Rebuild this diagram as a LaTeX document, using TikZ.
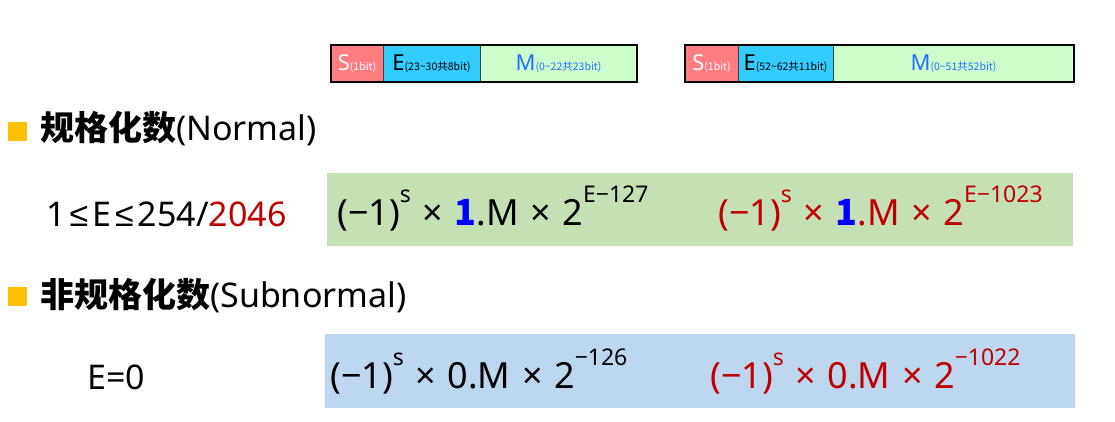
\documentclass[tikz,border=0pt]{standalone}
\usepackage{fontspec}
\setmainfont{Noto Sans}
\newfontfamily\cjk{Noto Sans CJK SC}
\newfontfamily\arialf{Liberation Sans}
\definecolor{scol}{HTML}{FF7C80}
\definecolor{ecol}{HTML}{33CCFF}
\definecolor{mcol}{HTML}{CCFFCC}
\definecolor{mtxt}{RGB}{35,110,250}
\definecolor{bul}{HTML}{FFC000}
\definecolor{gbox}{HTML}{C5E0B4}
\definecolor{bbox}{HTML}{BDD7EE}
\definecolor{dred}{HTML}{C00000}
\newcommand\upx[1]{\raisebox{23pt}{\fontsize{23}{23}\selectfont #1}}
\newcommand\bitx[1]{{\cjk\fontsize{10.5}{11}\selectfont #1}}
\newcommand\lesym{\hspace{4pt}{\arialf ≤}\hspace{4pt}}
\newcommand\tms{\hspace{0.32em}×\hspace{0.32em}}
\newcommand\bone{\textcolor{blue}{{\cjk\bfseries 1}}}
\tikzset{
  cell/.style={draw=black!75, line width=0.8pt, inner sep=0, text height=15pt, text depth=0pt,
    minimum height=37pt, font=\fontsize{22}{22}\selectfont},
  frame/.style={draw=black, line width=2pt},
  hd/.style={anchor=base west, inner sep=0, font=\fontsize{34}{40}\selectfont},
  fm/.style={anchor=base west, inner sep=0, font=\fontsize{36}{40}\selectfont},
  bullet/.style={fill=bul, draw=none, inner sep=0, minimum size=19pt},
  panel/.style={draw=none, inner sep=0},
}
\begin{document}
\begin{tikzpicture}[x=1pt,y=-1pt]
\useasboundingbox (0,0) rectangle (1115,422);
% bar 1
\node[cell, fill=scol, text=white, minimum width=52pt] (s1) at (357,63.5) {S\bitx{(1bit)}};
\node[cell, fill=ecol, text=black, minimum width=97pt] (e1) at (431.5,63.5) {E\bitx{(23\textasciitilde30共8bit)}};
\node[cell, fill=mcol, text=mtxt, minimum width=157pt] (m1) at (558.5,63.5) {M\bitx{(0\textasciitilde22共23bit)}};
\draw[frame] (s1.north west) rectangle (m1.south east);
% bar 2
\node[cell, fill=scol, text=white, minimum width=53pt] (s2) at (711.5,63.5) {S\bitx{(1bit)}};
\node[cell, fill=ecol, text=black, minimum width=95pt] (e2) at (785.5,63.5) {E\bitx{(52\textasciitilde62共11bit)}};
\node[cell, fill=mcol, text=mtxt, minimum width=241pt] (m2) at (953.5,63.5) {M\bitx{(0\textasciitilde51共52bit)}};
\draw[frame] (s2.north west) rectangle (m2.south east);
% panels
\node[panel, fill=gbox, minimum width=746pt, minimum height=73pt] (gp) at (700,209.5) {};
\node[panel, fill=bbox, minimum width=750pt, minimum height=74pt] (bp) at (700,371) {};
% headings
\node[bullet] (b1) at (17.5,131.5) {};
\node[hd] (h1) at (40,141) {{\cjk\bfseries 规格化数}(Normal)};
\node[bullet] (b2) at (17.5,296.5) {};
\node[hd] (h2) at (40,307) {{\cjk\bfseries 非规格化数}(Subnormal)};
% conditions
\node[hd] (c1) at (46,226) {1\lesym E\lesym 254/\textcolor{dred}{2046}};
\node[hd] (c2) at (87,389) {E=0};
% formulas
\node[fm] (f1) at (337,225) {(−1)\upx{s}\tms\bone.M\tms 2\upx{E−127}};
\node[fm, text=dred] (f2) at (718,225) {(−1)\upx{s}\tms\bone.M\tms 2\upx{E−1023}};
\node[fm] (f3) at (330,388) {(−1)\upx{s}\tms 0.M\tms 2\upx{−126}};
\node[fm, text=dred] (f4) at (710,388) {(−1)\upx{s}\tms 0.M\tms 2\upx{−1022}};
\end{tikzpicture}
\end{document}
